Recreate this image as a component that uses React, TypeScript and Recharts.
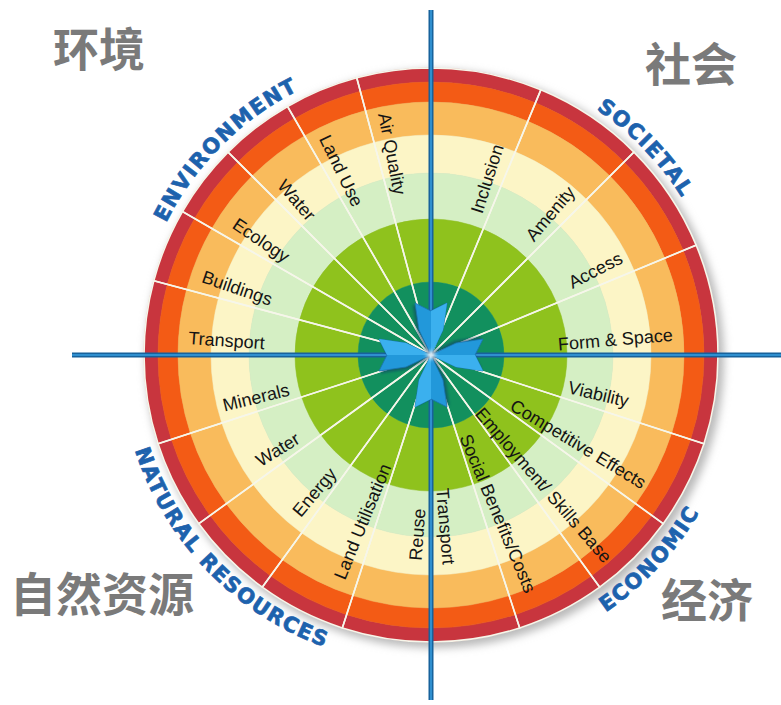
import React from 'react';
import { PieChart, Pie, Cell, Customized } from 'recharts';

const W = 781;
const H = 705;
const CX = 431;
const CY = 355;
const R = 287;

// sectors clockwise from 12 o'clock; spans are the angular width of each sector in degrees
const societalLabels = ['Inclusion', 'Amenity', 'Access', 'Form & Space'];
const societalSpans = [22.5, 22.5, 22.5, 22.5];
const economicLabels = ['Viability', 'Competitive Effects', 'Employment/ Skills Base', 'Social Benefits/Costs', 'Transport'];
const economicSpans = [18, 18, 18, 18, 18];
const naturalLabels = ['Reuse', 'Land Utilisation', 'Energy', 'Water', 'Minerals'];
const naturalSpans = [18, 18, 18, 18, 18];
const environmentLabels = ['Transport', 'Buildings', 'Ecology', 'Water', 'Land Use', 'Air Quality'];
const environmentSpans = [15, 15, 15, 15, 15, 15];

const groupIds = ['societal', 'economic', 'natural', 'environment'];
const groupTitles = ['SOCIETAL', 'ECONOMIC', 'NATURAL RESOURCES', 'ENVIRONMENT'];
const groupTitlesZh = ['社会', '经济', '自然资源', '环境'];

const groups = [
  { id: 'societal', labels: societalLabels, spans: societalSpans },
  { id: 'economic', labels: economicLabels, spans: economicSpans },
  { id: 'natural', labels: naturalLabels, spans: naturalSpans },
  { id: 'environment', labels: environmentLabels, spans: environmentSpans },
];

const segments = groups.flatMap((g) =>
  g.labels.map((name, i) => ({ name, group: g.id, value: g.spans[i] })),
);

// concentric bands, outside in
const RINGS = [
  { inner: 273, outer: R, fill: '#c8353e' },
  { inner: 253, outer: 273, fill: '#f35b15' },
  { inner: 220, outer: 253, fill: '#f9bb5c' },
  { inner: 182, outer: 220, fill: '#fcf5c6' },
  { inner: 136, outer: 182, fill: '#d5efc4' },
  { inner: 73, outer: 136, fill: '#8fc21d' },
  { inner: 0, outer: 73, fill: '#12905e' },
];

const LABEL_POS: Record<string, { r: number; shift: number }> = {
  societal: { r: 185, shift: -6.5 },
  economic: { r: 172, shift: -4.2 },
  natural: { r: 180, shift: 4.7 },
  environment: { r: 205, shift: 3.5 },
};

const TITLE_ARC: Record<string, { from: number; to: number; r: number; cw: boolean }> = {
  societal: { from: 70, to: 18, r: 296, cw: true },
  economic: { from: -72, to: -14, r: 311, cw: false },
  natural: { from: 188, to: 260, r: 311, cw: false },
  environment: { from: 165, to: 105, r: 296, cw: true },
};

const ZH_POS: Record<string, { x: number; y: number }> = {
  societal: { x: 645, y: 81 },
  economic: { x: 661, y: 617 },
  natural: { x: 10, y: 611 },
  environment: { x: 53, y: 66 },
};

const RAD = Math.PI / 180;
const pt = (r: number, a: number) => [CX + r * Math.cos(a * RAD), CY - r * Math.sin(a * RAD)];

function renderLabel(props: any) {
  const { midAngle, index } = props;
  const seg = segments[index];
  if (!seg) return null;
  const pos = LABEL_POS[seg.group];
  const a = midAngle + pos.shift;
  const [x, y] = pt(pos.r, a);
  const right = Math.cos(midAngle * RAD) >= 0;
  const rot = right ? -a : 180 - a;
  return (
    <text
      key={`lbl-${index}`}
      x={x}
      y={y}
      textAnchor="middle"
      dominantBaseline="central"
      transform={`rotate(${rot} ${x} ${y})`}
      fontSize={18}
      fontFamily="'Liberation Sans', Arial, sans-serif"
      fill="#141414"
    >
      {seg.name}
    </text>
  );
}

function arcPath(id: string) {
  const t = TITLE_ARC[id];
  const [x1, y1] = pt(t.r, t.from);
  const [x2, y2] = pt(t.r, t.to);
  return `M ${x1} ${y1} A ${t.r} ${t.r} 0 0 ${t.cw ? 1 : 0} ${x2} ${y2}`;
}

function Backdrop() {
  return (
    <g>
      <defs>
        <filter id="soft" x="-20%" y="-20%" width="140%" height="140%">
          <feGaussianBlur stdDeviation="4" />
        </filter>
      </defs>
      <circle cx={CX + 4} cy={CY + 4} r={R + 2} fill="#b9b9b9" filter="url(#soft)" />
      {groupIds.map((id, i) => (
        <g key={id}>
          <path id={`arc-${id}`} d={arcPath(id)} fill="none" />
          <text
            fontSize={21}
            fontWeight="bold"
            fontFamily="'DejaVu Sans', Arial, sans-serif"
            letterSpacing={1.5}
            fill="#1d62ad"
            stroke="#1d62ad"
            strokeWidth={0.7}
          >
            <textPath href={`#arc-${id}`} startOffset="50%" textAnchor="middle">
              {groupTitles[i]}
            </textPath>
          </text>
          <text
            x={ZH_POS[id].x}
            y={ZH_POS[id].y}
            fontSize={46}
            fontWeight="bold"
            fontFamily="'Noto Sans CJK SC', sans-serif"
            fill="#7a7a7a"
          >
            {groupTitlesZh[i]}
          </text>
        </g>
      ))}
    </g>
  );
}

const ARROW = '0,0 -25,-12 -52,-16 -44,0 -52,16 -25,12';
const ARROW_TOP = '0,0 -25,-12 -52,-16 -44,0';

function Arrow({ rot }: { rot: number }) {
  return (
    <g transform={`translate(${CX} ${CY}) rotate(${rot})`}>
      <polygon points={ARROW} fill="#0e3f66" opacity={0.55} transform="translate(1.5 2.5)" filter="url(#blur1)" />
      <polygon points={ARROW} fill="#2298da" stroke="#1a72b0" strokeWidth={0.8} />
      <polygon points={ARROW_TOP} fill="#3bb0ee" />
    </g>
  );
}

// axis cross and the four inward arrows sit above the wheel
function Overlay() {
  return (
    <svg width={W} height={H} style={{ position: 'absolute', left: 0, top: 0, pointerEvents: 'none' }}>
      <defs>
        <filter id="glow" x="-100%" y="-100%" width="300%" height="300%">
          <feGaussianBlur stdDeviation="2" />
        </filter>
        <filter id="blur1" x="-30%" y="-30%" width="160%" height="160%">
          <feGaussianBlur stdDeviation="1.2" />
        </filter>
      </defs>
      <line x1={CX} y1={10} x2={CX} y2={700} stroke="#17629c" strokeWidth={5} />
      <line x1={CX} y1={10} x2={CX} y2={700} stroke="#2f8fcf" strokeWidth={2} />
      <line x1={72} y1={CY} x2={W} y2={CY} stroke="#17629c" strokeWidth={5} />
      <line x1={72} y1={CY} x2={W} y2={CY} stroke="#2f8fcf" strokeWidth={2} />
      {[0, 90, 180, 270].map((r) => (
        <Arrow key={r} rot={r} />
      ))}
      <circle cx={CX} cy={CY} r={4} fill="#ffffff" filter="url(#glow)" />
    </svg>
  );
}

export default function App() {
  return (
    <div style={{ position: 'absolute', left: 0, top: 0, width: W, height: H, background: '#fff' }}>
      <PieChart width={W} height={H} margin={{ top: 0, right: 0, bottom: 0, left: 0 }}>
        <Customized component={<Backdrop />} />
        {RINGS.map((ring, k) => (
          <Pie
            key={`ring-${k}`}
            data={segments}
            dataKey="value"
            nameKey="name"
            cx={CX}
            cy={CY}
            innerRadius={ring.inner}
            outerRadius={ring.outer}
            startAngle={90}
            endAngle={-270}
            stroke={ring.fill}
            strokeWidth={0.5}
            isAnimationActive={false}
          >
            {segments.map((s, i) => (
              <Cell key={i} fill={ring.fill} />
            ))}
          </Pie>
        ))}
        <Pie
          data={segments}
          dataKey="value"
          nameKey="name"
          cx={CX}
          cy={CY}
          innerRadius={0}
          outerRadius={R}
          startAngle={90}
          endAngle={-270}
          fill="none"
          stroke="#f6f6ea"
          strokeWidth={1.6}
          label={renderLabel}
          labelLine={false}
          isAnimationActive={false}
        >
          {segments.map((s, i) => (
            <Cell key={i} fill="none" />
          ))}
        </Pie>
      </PieChart>
      <Overlay />
    </div>
  );
}
